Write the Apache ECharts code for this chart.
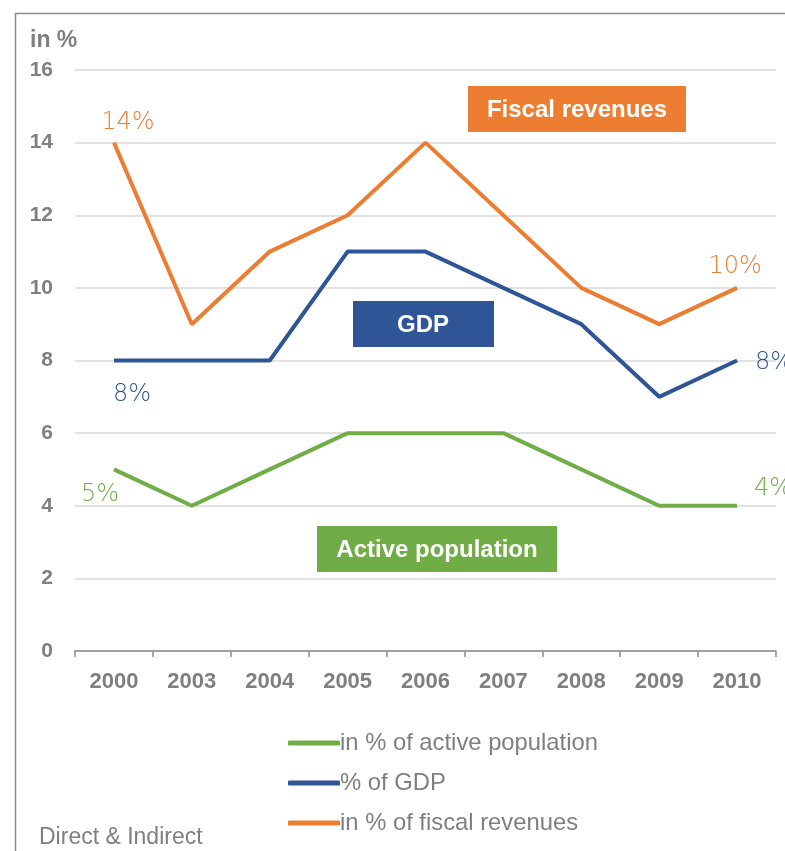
<!DOCTYPE html>
<html>
<head>
<meta charset="utf-8">
<script src="https://cdn.jsdelivr.net/npm/echarts@6/dist/echarts.min.js"></script>
<style>
html,body{margin:0;padding:0;background:#fff;}
#chart{width:785px;height:851px;}
</style>
</head>
<body>
<div id="chart"></div>
<script>
var categories = ['2000','2003','2004','2005','2006','2007','2008','2009','2010'];
var fiscalRevenues = [14, 9, 11, 12, 14, 12, 10, 9, 10];
var gdp = [8, 8, 8, 11, 11, 10, 9, 7, 8];
var activePopulation = [5, 4, 5, 6, 6, 6, 5, 4, 4];
var seriesNames = ['in % of active population', '% of GDP', 'in % of fiscal revenues'];
var yTicks = [0, 2, 4, 6, 8, 10, 12, 14, 16];

var cOrange = '#ED7D31', cBlue = '#2F5597', cGreen = '#70AD47', cGray = '#7F7F7F';
var lblFont = '"DejaVu Sans", Lato, sans-serif';
var sans = '"Liberation Sans", Arial, sans-serif';

function withLabels(values, color, firstLbl, lastLbl) {
  return values.map(function (v, i) {
    var d = { value: v };
    var cfg = i === 0 ? firstLbl : (i === values.length - 1 ? lastLbl : null);
    if (cfg) {
      d.label = Object.assign({
        show: true, color: color, fontSize: 24, fontWeight: 200, fontFamily: lblFont,
        formatter: function (p) { return p.value + '%'; }
      }, cfg);
    }
    return d;
  });
}

function lineSeries(name, values, color, firstLbl, lastLbl) {
  return {
    name: name, type: 'line', symbol: 'circle', symbolSize: 0, showSymbol: true, color: color,
    itemStyle: { color: color },
    lineStyle: { width: 4, color: color },
    data: withLabels(values, color, firstLbl, lastLbl)
  };
}

var chart = echarts.init(document.getElementById('chart'), null, { renderer: 'canvas' });
chart.setOption({
  animation: false,
  grid: { left: 75, right: 9, top: 70, bottom: 200, containLabel: false },
  xAxis: {
    type: 'category', data: categories, boundaryGap: true,
    axisLine: { lineStyle: { color: '#8C8C8C', width: 1.5 } },
    axisTick: { show: true, length: 6, lineStyle: { color: '#8C8C8C', width: 1.5 } },
    axisLabel: { color: cGray, fontSize: 22, fontWeight: 'bold', fontFamily: sans, margin: 20 }
  },
  yAxis: {
    type: 'value', min: 0, max: 16, interval: 2,
    axisLine: { show: false }, axisTick: { show: false },
    splitLine: { lineStyle: { color: '#D9D9D9', width: 1.5 } },
    axisLabel: { color: cGray, fontSize: 21, fontWeight: 'bold', fontFamily: sans, margin: 22,
      formatter: function (v) { return yTicks.indexOf(v) >= 0 ? String(v) : ''; } }
  },
  legend: {
    data: seriesNames, orient: 'vertical', left: 283, top: 726,
    itemWidth: 52, itemHeight: 5, itemGap: 16, icon: 'roundRect',
    textStyle: { color: cGray, fontSize: 23.8, fontFamily: sans, padding: [0, 0, 0, -5], lineHeight: 22 }
  },
  series: [
    lineSeries(seriesNames[0], activePopulation, cGreen,
      { position: 'bottom', offset: [-14, 9], distance: 4 },
      { position: 'right', offset: [0, -17], distance: 17 }),
    lineSeries(seriesNames[1], gdp, cBlue,
      { position: 'bottom', offset: [18, 12], distance: 10 },
      { position: 'right', offset: [0, 2], distance: 18 }),
    lineSeries(seriesNames[2], fiscalRevenues, cOrange,
      { position: 'top', offset: [14, 0], distance: 8 },
      { position: 'top', offset: [-2, 0], distance: 9 })
  ],
  graphic: [
    { type: 'rect', left: 13, top: 11, shape: { width: 900, height: 900 }, style: { fill: 'none', stroke: '#8C8C8C', lineWidth: 1.5 }, silent: true, z: 0 },
    { type: 'text', left: 30, top: 29, style: { text: 'in %', fill: cGray, fontSize: 23, fontWeight: 'bold', fontFamily: sans } },
    { type: 'text', left: 39, top: 826, style: { text: 'Direct & Indirect', fill: cGray, fontSize: 23, fontFamily: sans } },
    { type: 'group', left: 468, top: 86, children: [
      { type: 'rect', shape: { width: 218, height: 46 }, style: { fill: cOrange } },
      { type: 'text', x: 109, y: 24, style: { text: 'Fiscal revenues', fill: '#fff', fontSize: 24, fontWeight: 'bold', fontFamily: sans, align: 'center', verticalAlign: 'middle' } }
    ] },
    { type: 'group', left: 353, top: 301, children: [
      { type: 'rect', shape: { width: 141, height: 46 }, style: { fill: cBlue } },
      { type: 'text', x: 70, y: 24, style: { text: 'GDP', fill: '#fff', fontSize: 24, fontWeight: 'bold', fontFamily: sans, align: 'center', verticalAlign: 'middle' } }
    ] },
    { type: 'group', left: 317, top: 526, children: [
      { type: 'rect', shape: { width: 240, height: 46 }, style: { fill: cGreen } },
      { type: 'text', x: 120, y: 24, style: { text: 'Active population', fill: '#fff', fontSize: 24, fontWeight: 'bold', fontFamily: sans, align: 'center', verticalAlign: 'middle' } }
    ] }
  ]
});
</script>
</body>
</html>
